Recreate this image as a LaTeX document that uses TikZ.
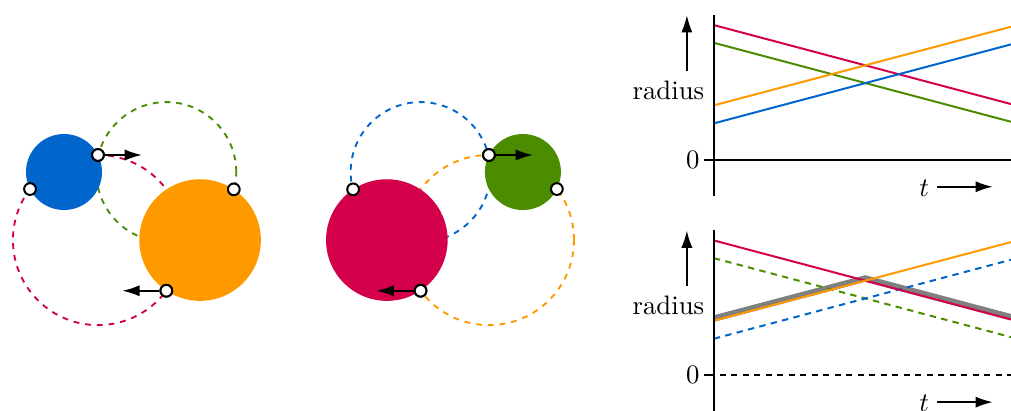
\documentclass[tikz,border=0pt]{standalone}
\usetikzlibrary{arrows.meta}
\definecolor{cblue}{RGB}{0,102,204}
\definecolor{corange}{RGB}{255,153,0}
\definecolor{cred}{RGB}{212,0,75}
\definecolor{cgreen}{RGB}{75,140,0}
\tikzset{
  dot/.style={draw,circle,fill=white,line width=0.75pt,minimum size=4.4pt,inner sep=0pt},
  track/.style={line width=0.7pt,dash pattern=on 2.2pt off 2.2pt},
  push/.style={-{Latex[length=6.5pt,width=4.2pt]},line width=0.75pt},
  axis/.style={line width=0.75pt},
  rline/.style={line width=0.75pt},
  rdash/.style={line width=0.75pt,dash pattern=on 2.4pt off 2pt}
}
\begin{document}
\begin{tikzpicture}
\useasboundingbox (0,0) rectangle (13.30,5.395);
% left pair
\draw[track,cgreen] (2.188,3.132) circle (0.92);
\draw[track,cred] (1.289,2.237) circle (1.119);
\fill[cblue] (0.842,3.132) circle (0.5);
\fill[corange] (2.632,2.237) circle (0.8);
\coordinate (ltip) at (1.869,3.356);
\coordinate (lbtip) at (1.608,1.570);
\node[dot] (b1) at (1.289,3.356) {};
\node[dot] (b2) at (0.395,2.908) {};
\node[dot] (o1) at (3.076,2.904) {};
\node[dot] (o2) at (2.188,1.570) {};
\draw[push] (b1) -- (ltip);
\draw[push] (o2) -- (lbtip);
\node[dot] at (b1) {};
\node[dot] at (o2) {};
% right pair
\draw[track,cblue] (5.533,3.132) circle (0.92);
\draw[track,corange] (6.432,2.237) circle (1.119);
\fill[cgreen] (6.879,3.132) circle (0.5);
\fill[cred] (5.089,2.237) circle (0.8);
\coordinate (rtip) at (7.012,3.356);
\coordinate (rbtip) at (4.953,1.570);
\node[dot] (g1) at (6.432,3.356) {};
\node[dot] (g2) at (7.326,2.908) {};
\node[dot] (r1) at (4.645,2.904) {};
\node[dot] (r2) at (5.533,1.570) {};
\draw[push] (g1) -- (rtip);
\draw[push] (r2) -- (rbtip);
\node[dot] at (g1) {};
\node[dot] at (r2) {};
% top graph
\begin{scope}[shift={(9.391,3.293)}]
  \draw[rline,cred] (0,1.772) -- (3.909,0.733);
  \draw[rline,cgreen] (0,1.539) -- (3.909,0.5);
  \draw[rline,corange] (0,0.716) -- (3.909,1.75);
  \draw[rline,cblue] (0,0.479) -- (3.909,1.518);
  \draw[axis] (0,-0.477) -- (0,1.904);
  \draw[axis] (-0.128,0) -- (3.909,0);
  \node (zero1) at (-0.277,0) {0};
  \node (rad1) at (-0.598,0.918) {radius};
  \coordinate (up1a) at (-0.355,1.171);
  \coordinate (up1b) at (-0.355,1.904);
  \draw[push] (up1a) -- (up1b);
  \node (t1) at (2.767,-0.372) {$t$};
  \coordinate (rt1a) at (2.934,-0.355);
  \coordinate (rt1b) at (3.671,-0.355);
  \draw[push] (rt1a) -- (rt1b);
\end{scope}
% bottom graph
\begin{scope}[shift={(9.391,0.46)}]
  \draw[line width=2.4pt,gray,yshift=0.8pt] (0,0.716) -- (1.991,1.243) -- (3.909,0.733);
  \draw[rdash,cgreen] (0,1.539) -- (3.909,0.5);
  \draw[rdash,cblue] (0,0.479) -- (3.909,1.518);
  \draw[rline,cred] (0,1.772) -- (3.909,0.733);
  \draw[rline,corange] (0,0.716) -- (3.909,1.75);
  \draw[axis] (0,-0.477) -- (0,1.904);
  \draw[axis] (-0.128,0) -- (0,0);
  \draw[axis,dash pattern=on 2.2pt off 2.1pt] (0.08,0) -- (3.909,0);
  \node (zero2) at (-0.277,0) {0};
  \node (rad2) at (-0.598,0.918) {radius};
  \coordinate (up2a) at (-0.355,1.171);
  \coordinate (up2b) at (-0.355,1.904);
  \draw[push] (up2a) -- (up2b);
  \node (t2) at (2.767,-0.372) {$t$};
  \coordinate (rt2a) at (2.934,-0.355);
  \coordinate (rt2b) at (3.671,-0.355);
  \draw[push] (rt2a) -- (rt2b);
\end{scope}
\end{tikzpicture}
\end{document}
